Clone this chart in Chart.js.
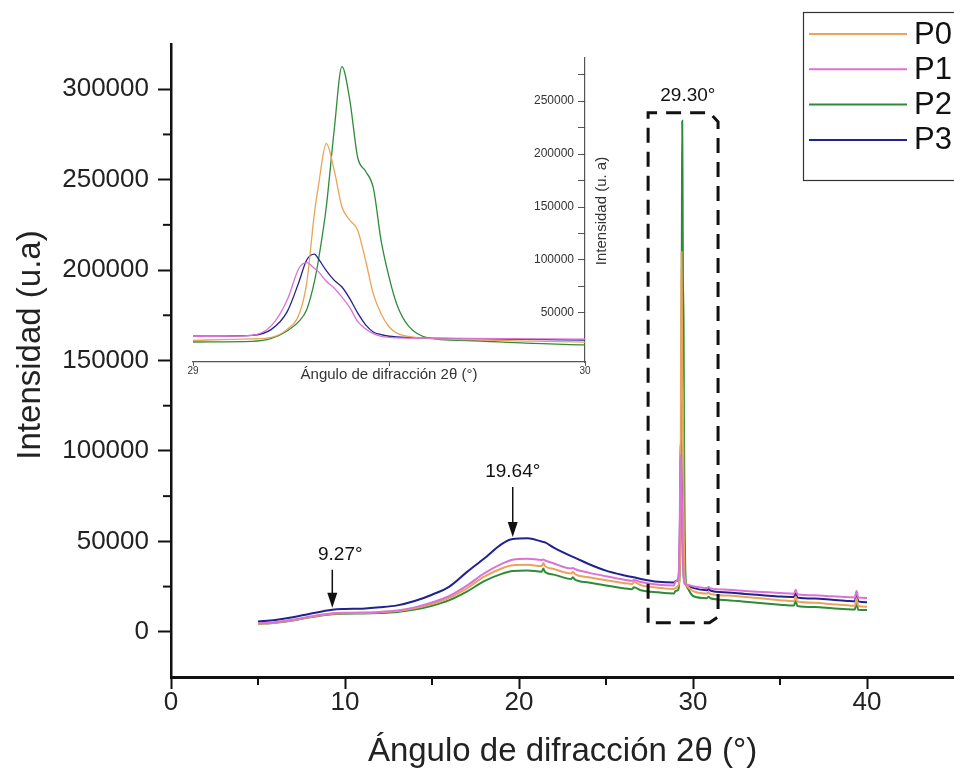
<!DOCTYPE html>
<html><head><meta charset="utf-8">
<script src="https://cdn.jsdelivr.net/npm/chart.js@4.4.1/dist/chart.umd.min.js"></script>
<style>
html,body{margin:0;padding:0;background:#fff;}
#wrap{position:relative;width:954px;height:778px;overflow:hidden;background:#fff;}
#main{position:absolute;left:0;top:0;}
#inset{position:absolute;left:150px;top:40px;}
</style></head><body>
<div id="wrap"><canvas id="main" width="954" height="778"></canvas><canvas id="inset" width="490" height="350"></canvas></div>
<script>
// ---- data ----
const seriesNames = ['P0', 'P1', 'P2', 'P3'];
const angles = [5, 6, 7, 8, 9.27, 10, 11, 12, 13, 14, 15, 16, 17, 18, 19, 19.64, 20.5, 21.3, 21.4, 21.5, 22, 23, 23.1, 23.2, 24, 25, 26, 26.5, 26.6, 27, 28, 28.9, 29.0, 29.15, 29.2, 29.24, 29.27, 29.29, 29.31, 29.32, 29.34, 29.36, 29.38, 29.4, 29.42, 29.44, 29.46, 29.48, 29.5, 29.52, 29.55, 29.6, 29.7, 29.85, 30, 30.8, 30.9, 31, 32, 33, 34, 35, 35.8, 35.9, 36.0, 37, 38, 39, 39.3, 39.4, 39.5, 40];
const P0 = [4400, 5100, 6400, 8200, 10000, 10300, 10400, 10800, 11500, 13000, 15400, 18800, 24000, 30500, 35000, 36800, 37000, 36400, 38000, 36300, 34700, 32200, 33200, 32000, 30200, 28500, 27000, 26400, 27600, 25800, 24400, 23600, 24200, 25500, 27000, 34500, 48000, 78000, 145000, 170000, 210000, 185000, 150000, 137600, 128000, 100000, 68000, 49000, 37000, 31000, 27800, 26000, 24800, 23500, 22500, 21100, 22000, 20900, 20000, 19200, 18400, 17500, 16900, 19500, 16700, 16000, 15200, 14500, 14400, 18500, 14200, 13900];
const P1 = [4600, 5300, 6600, 8400, 10200, 10500, 10600, 11000, 11800, 13500, 16200, 19800, 25500, 32300, 37500, 39800, 40400, 39700, 39900, 39400, 37800, 35000, 35300, 34700, 32700, 30700, 28900, 28200, 28700, 27500, 26000, 25600, 27800, 28900, 38000, 62000, 92000, 97500, 92000, 89000, 80000, 73500, 65000, 55000, 42000, 35000, 30500, 28000, 27000, 26500, 26300, 26200, 26000, 25600, 25200, 24200, 24700, 24000, 23300, 22600, 22000, 21400, 21000, 23300, 20800, 20200, 19600, 19100, 19000, 22500, 18900, 18700];
const P2 = [4300, 5000, 6200, 8000, 9700, 10000, 10100, 10400, 11000, 12300, 14400, 17500, 22200, 28000, 32000, 33600, 33900, 33200, 35000, 33000, 31600, 29200, 30200, 29000, 27300, 25600, 24100, 23500, 24600, 23000, 21800, 21200, 22600, 23200, 26000, 33000, 42000, 53000, 80000, 100000, 150000, 222000, 282500, 251000, 197000, 184000, 168000, 118000, 84000, 58000, 37500, 26500, 24000, 21500, 19800, 18600, 19400, 18500, 17500, 16600, 15800, 15000, 14500, 17000, 14300, 13700, 13000, 12400, 12300, 16000, 12200, 12000];
const P3 = [5700, 6500, 8000, 10000, 12200, 12600, 12800, 13500, 14600, 17000, 20500, 25000, 33000, 40500, 48500, 51300, 51700, 49900, 49700, 49400, 46500, 41800, 41400, 41000, 37500, 33800, 31300, 30300, 30100, 29200, 27600, 27200, 28000, 28900, 34500, 51000, 79000, 100000, 105500, 101000, 90000, 81000, 74500, 63500, 50000, 39000, 32000, 29500, 28000, 27300, 26800, 26200, 25700, 25000, 24300, 23000, 23600, 22800, 21700, 20900, 20200, 19500, 19200, 21500, 19000, 18400, 17700, 17000, 16900, 20500, 16800, 16300];
const seriesValues = [P0, P1, P2, P3];

const mainXTicks = [0, 10, 20, 30, 40];
const mainXMinor = [5, 15, 25, 35];
const mainYTicks = [0, 50000, 100000, 150000, 200000, 250000, 300000];
const mainYMinor = [25000, 75000, 125000, 175000, 225000, 275000];
const insetXTicks = [29, 29.5, 30];
const insetXLabels = [29, 30];
const insetYTicks = [25000, 50000, 75000, 100000, 125000, 150000, 175000, 200000, 225000, 250000, 275000];
const insetYLabels = [50000, 100000, 150000, 200000, 250000];

const markAngles = [9.27, 19.64];
const markLabels = ['9.27°', '19.64°'];
const zoomLabel = '29.30°';
const zoomAngle = 29.30;

const mainXTitle = 'Ángulo de difracción 2θ (°)';
const mainYTitle = 'Intensidad (u.a)';
const insetXTitle = 'Ángulo de difracción 2θ (°)';
const insetYTitle = 'Intensidad (u. a)';

// ---- styles ----
const seriesColors = ['#E9A459', '#DC72D6', '#2F8B3A', '#22228F'];
const drawOrder = [1, 0, 3, 2];
const FONT = "'Liberation Sans', Arial, Helvetica, sans-serif";
Chart.defaults.font.family = FONT;
Chart.defaults.color = '#222';

function makeDatasets(width) {
  return seriesNames.map((n, i) => ({
    label: n,
    data: angles.map((a, k) => ({x: a, y: seriesValues[i][k]})),
    borderColor: seriesColors[i],
    backgroundColor: seriesColors[i],
    borderWidth: width,
    pointRadius: 0,
    cubicInterpolationMode: 'monotone',
    fill: false,
    order: drawOrder[i]
  }));
}

const mainExtras = {
  id: 'mainExtras',
  afterDraw(chart) {
    const ctx = chart.ctx, xs = chart.scales.x, ys = chart.scales.y;
    ctx.save();
    ctx.strokeStyle = '#111';
    ctx.lineWidth = 2;
    mainXMinor.forEach(v => {
      const p = xs.getPixelForValue(v);
      ctx.beginPath(); ctx.moveTo(p, ys.bottom); ctx.lineTo(p, ys.bottom + 8); ctx.stroke();
    });
    mainYMinor.forEach(v => {
      const p = ys.getPixelForValue(v);
      ctx.beginPath(); ctx.moveTo(xs.left, p); ctx.lineTo(xs.left - 8, p); ctx.stroke();
    });
    // y title
    ctx.save();
    ctx.fillStyle = '#222';
    ctx.font = '33px ' + FONT;
    ctx.textAlign = 'center';
    ctx.textBaseline = 'middle';
    ctx.translate(31, 345);
    ctx.rotate(-Math.PI / 2);
    ctx.fillText(mainYTitle, 0, 0);
    ctx.restore();
    // arrows
    const arrowLen = [38, 50];
    ctx.fillStyle = '#111';
    ctx.font = '19px ' + FONT;
    ctx.textAlign = 'center';
    ctx.textBaseline = 'middle';
    markAngles.forEach((a, i) => {
      const px = xs.getPixelForValue(a);
      const k = angles.indexOf(a);
      const tip = ys.getPixelForValue(P3[k]) - 2;
      const tail = tip - arrowLen[i];
      ctx.lineWidth = 1.5;
      ctx.beginPath(); ctx.moveTo(px, tail); ctx.lineTo(px, tip - 12); ctx.stroke();
      ctx.beginPath(); ctx.moveTo(px - 5, tip - 15); ctx.lineTo(px + 5, tip - 15); ctx.lineTo(px, tip); ctx.closePath(); ctx.fill();
      ctx.fillText(markLabels[i], px + (i === 0 ? 8 : 0), tail - 15);
    });
    // dashed zoom box
    const bx0 = xs.getPixelForValue(27.42), bx1 = xs.getPixelForValue(31.44), bxc = xs.getPixelForValue(30.95);
    const by0 = ys.getPixelForValue(287000), by1 = ys.getPixelForValue(5000);
    ctx.setLineDash([15, 9]);
    ctx.lineWidth = 3;
    ctx.strokeStyle = '#111';
    ctx.beginPath();
    ctx.moveTo(bx0, by1); ctx.lineTo(bx0, by0); ctx.lineTo(bxc, by0); ctx.lineTo(bx1, by0 + 9);
    ctx.lineTo(bx1, by1 - 6); ctx.lineTo(bxc, by1); ctx.closePath();
    ctx.stroke();
    ctx.setLineDash([]);
    ctx.fillText(zoomLabel, xs.getPixelForValue(zoomAngle) + 7, by0 - 17);
    // legend
    ctx.lineWidth = 1.2;
    ctx.strokeStyle = '#333';
    ctx.strokeRect(803.5, 12.5, 160, 168);
    ctx.font = '31px ' + FONT;
    ctx.textAlign = 'left';
    chart.data.datasets.forEach((ds, i) => {
      const yy = 34 + i * 35.3;
      ctx.strokeStyle = ds.borderColor; ctx.lineWidth = 2;
      ctx.beginPath(); ctx.moveTo(809, yy); ctx.lineTo(907, yy); ctx.stroke();
      ctx.fillStyle = '#111';
      ctx.fillText(ds.label, 914, yy + 1);
    });
    ctx.restore();
  }
};

new Chart(document.getElementById('main'), {
  type: 'line',
  data: {datasets: makeDatasets(2)},
  options: {
    responsive: false, animation: false, events: [],
    layout: {padding: {left: 0, top: 44, right: 0, bottom: 0}},
    plugins: {legend: {display: false}, tooltip: {enabled: false}},
    scales: {
      x: {
        type: 'linear', min: 0, max: 45,
        afterBuildTicks: s => { s.ticks = mainXTicks.map(v => ({value: v})); },
        afterFit: s => { s.height = 101; },
        grid: {drawOnChartArea: false, drawTicks: true, tickLength: 12, tickWidth: 2, tickColor: '#111'},
        border: {color: '#111', width: 3},
        ticks: {font: {size: 26}, color: '#222', padding: -2, maxRotation: 0, callback: v => String(v)},
        title: {display: true, text: mainXTitle, font: {size: 33}, color: '#222', padding: {top: 0, bottom: 6}}
      },
      y: {
        min: -25000, max: 325000,
        afterBuildTicks: s => { s.ticks = mainYTicks.map(v => ({value: v})); },
        afterFit: s => { s.width = 171; },
        grid: {drawOnChartArea: false, drawTicks: true, tickLength: 13, tickWidth: 2, tickColor: '#111'},
        border: {color: '#111', width: 2.5},
        ticks: {font: {size: 26}, color: '#222', padding: 9, callback: v => String(v)},
        title: {display: false}
      }
    }
  },
  plugins: [mainExtras]
});

const insetExtras = {
  id: 'insetExtras',
  afterDraw(chart) {
    const ctx = chart.ctx, ys = chart.scales.y;
    ctx.save();
    ctx.fillStyle = '#333';
    ctx.font = '12px ' + FONT;
    ctx.textAlign = 'right';
    ctx.textBaseline = 'middle';
    insetYLabels.forEach(v => { ctx.fillText(String(v), ys.left - 11, ys.getPixelForValue(v)); });
    ctx.translate(ys.left + 17, (ys.top + ys.bottom) / 2 + 1);
    ctx.rotate(-Math.PI / 2);
    ctx.textAlign = 'center';
    ctx.font = '15px ' + FONT;
    ctx.fillText(insetYTitle, 0, 0);
    ctx.restore();
  }
};

new Chart(document.getElementById('inset'), {
  type: 'line',
  data: {datasets: makeDatasets(1.3)},
  options: {
    responsive: false, animation: false, events: [],
    layout: {padding: {left: 43, top: 18, right: 0, bottom: 0}},
    plugins: {legend: {display: false}, tooltip: {enabled: false}},
    scales: {
      x: {
        type: 'linear', min: 29, max: 30,
        afterBuildTicks: s => { s.ticks = insetXTicks.map(v => ({value: v})); },
        afterFit: s => { s.height = 28; },
        grid: {drawOnChartArea: false, drawTicks: true, tickLength: 4, tickColor: '#555'},
        border: {color: '#555', width: 1.2},
        ticks: {font: {size: 10}, color: '#333', padding: -1, maxRotation: 0, autoSkip: false,
                callback: v => insetXLabels.includes(v) ? String(v) : ''},
        title: {display: true, text: insetXTitle, font: {size: 15}, color: '#333', padding: {top: 0, bottom: 6}}
      },
      y: {
        position: 'right', min: 3700, max: 290700,
        afterBuildTicks: s => { s.ticks = insetYTicks.map(v => ({value: v})); },
        afterFit: s => { s.width = 55; },
        grid: {drawOnChartArea: false, drawTicks: true, tickLength: -7, tickColor: '#555'},
        border: {color: '#555', width: 1.2},
        ticks: {display: false}
      }
    }
  },
  plugins: [insetExtras]
});
</script>
</body></html>
